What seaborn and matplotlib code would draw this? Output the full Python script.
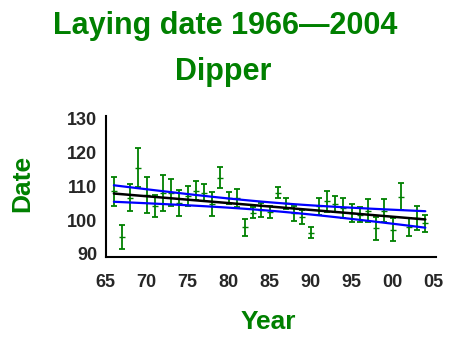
import numpy as np
import matplotlib
matplotlib.use("Agg")
import matplotlib.pyplot as plt
import seaborn as sns

# data
years = list(range(1966, 2005))
mean_date = [108.5, 94.9, 106.6, 115.4, 107.4, 104.1, 108.0, 108.1, 105.0, 107.1,
             108.6, 108.1, 104.8, 112.5, 106.6, 106.5, 97.8, 102.2, 103.0, 102.4,
             108.1, 105.0, 102.0, 100.9, 96.3, 104.0, 105.5, 104.8, 103.5, 102.1,
             101.5, 102.7, 97.6, 102.7, 97.1, 106.9, 97.9, 100.6, 99.0]
err = [4.3, 3.5, 4.0, 5.8, 5.2, 3.2, 5.2, 3.9, 3.8, 3.0,
       2.8, 2.6, 3.6, 3.0, 1.8, 2.6, 2.4, 1.6, 2.0, 1.8,
       1.6, 1.6, 2.2, 2.1, 1.5, 2.6, 3.0, 2.4, 3.0, 2.6,
       2.2, 3.4, 3.4, 3.4, 3.4, 3.9, 2.6, 3.5, 2.5]
y_ticks = [90, 100, 110, 120, 130]
x_ticks = [1965, 1970, 1975, 1980, 1985, 1990, 1995, 2000, 2005]
x_labels = ["65", "70", "75", "80", "85", "90", "95", "00", "05"]

GREEN = "#008000"

sns.set_style("white")
plt.rcParams["font.family"] = ["Liberation Sans", "DejaVu Sans"]

# linear trend with 95% confidence limits
x = np.array(years, dtype=float)
y = np.array(mean_date)
b, a = np.polyfit(x, y, 1)
fit = a + b * x
n = len(x)
s = np.sqrt(np.sum((y - fit) ** 2) / (n - 2))
se = s * np.sqrt(1 / n + (x - x.mean()) ** 2 / np.sum((x - x.mean()) ** 2))
upper = fit + 2.02 * se
lower = fit - 2.02 * se

fig = plt.figure(figsize=(4.49, 3.37), dpi=100)
ax = fig.add_axes([0.2354, 0.2374, 0.7356, 0.4186])

ax.errorbar(years, mean_date, yerr=err, fmt="_", color=GREEN, ecolor=GREEN,
            elinewidth=1.3, capsize=2.4, capthick=1.3, markersize=4, zorder=3)
sns.lineplot(x=years, y=fit, color="black", lw=1.8, ax=ax, zorder=4)
sns.lineplot(x=years, y=upper, color="#0000ff", lw=1.6, ax=ax, zorder=4)
sns.lineplot(x=years, y=lower, color="#0000ff", lw=1.6, ax=ax, zorder=4)

ax.set_xlim(1965, 2005.3)
ax.set_ylim(89.1, 130.7)
ax.set_xticks(x_ticks)
ax.set_xticklabels(x_labels)
ax.set_xticks(years + [2005], minor=True)
ax.set_yticks(y_ticks)
ax.tick_params(axis="both", which="major", direction="out", length=4, width=1.2,
               color="black", labelsize=13, pad=2)
ax.tick_params(axis="x", which="major", pad=8)
ax.tick_params(axis="x", which="minor", direction="out", length=2.5, width=1,
               color="black")
for lab in ax.get_xticklabels() + ax.get_yticklabels():
    lab.set_fontweight("bold")
for side in ["top", "right"]:
    ax.spines[side].set_visible(False)
for side in ["left", "bottom"]:
    ax.spines[side].set_color("black")
    ax.spines[side].set_linewidth(1.5)

ax.set_xlabel("")
ax.set_ylabel("")
fig.text(268 / 449, 1 - 322 / 337, "Year", color=GREEN, fontsize=19,
         fontweight="bold", ha="center", va="center")
fig.text(22 / 449, 1 - 183 / 337, "Date", color=GREEN, fontsize=19,
         fontweight="bold", ha="center", va="center", rotation=90)
fig.text(225 / 449, 1 - 26 / 337, "Laying date 1966\u20142004", color=GREEN,
         fontsize=22, fontweight="bold", ha="center", va="center")
fig.text(223 / 449, 1 - 72 / 337, "Dipper", color=GREEN,
         fontsize=22, fontweight="bold", ha="center", va="center")

fig.savefig("out.png", dpi=100)
